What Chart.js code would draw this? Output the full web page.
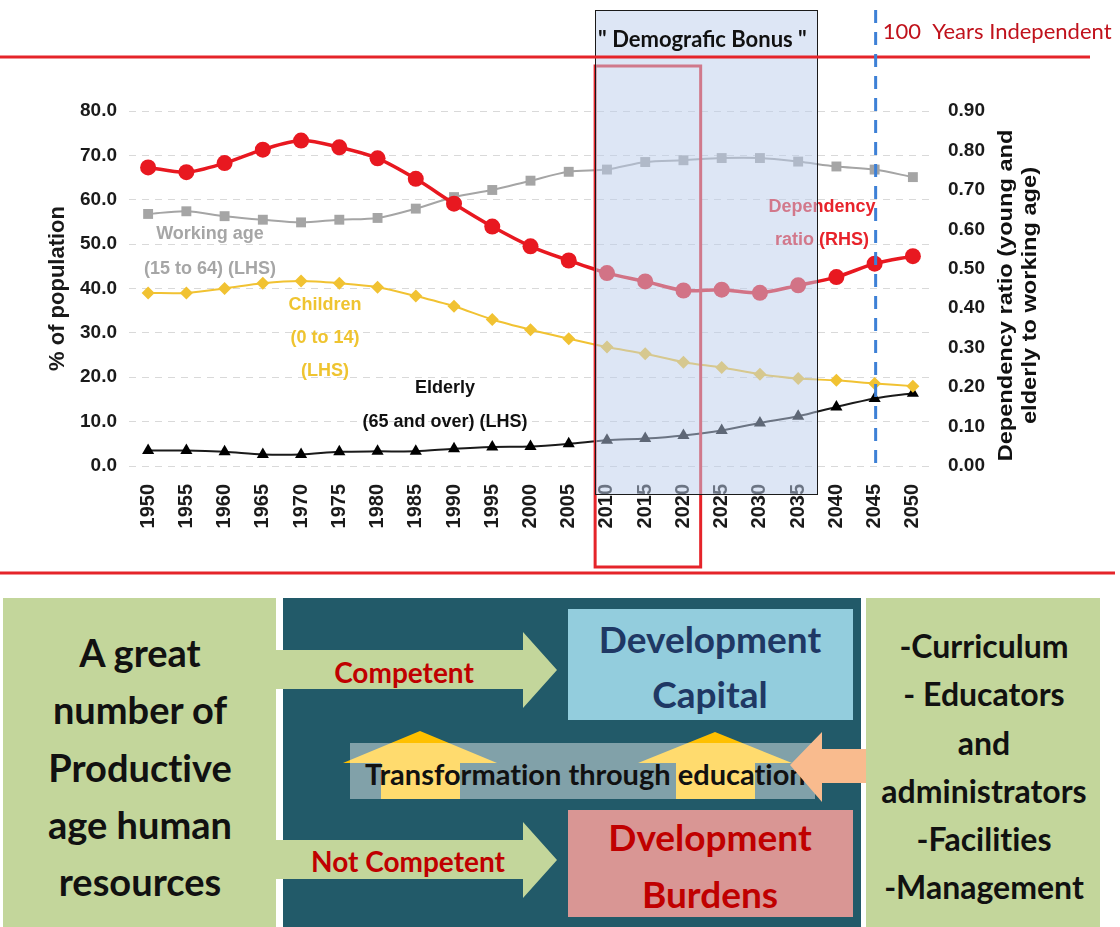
<!DOCTYPE html>
<html><head><meta charset="utf-8">
<script src="https://cdn.jsdelivr.net/npm/chart.js@4.4.0/dist/chart.umd.min.js"></script>
<style>
html,body{margin:0;padding:0;background:#fff;}
#wrap{position:relative;width:1120px;height:927px;overflow:hidden;background:#fff;}
#chart{position:absolute;left:0;top:0;}
#diagram{position:absolute;left:0;top:580px;font-variant-ligatures:none;}
</style></head><body>
<div id="wrap">
<canvas id="chart" width="1120" height="580"></canvas>
<svg id="diagram" width="1120" height="347" viewBox="0 580 1120 347" xmlns="http://www.w3.org/2000/svg">
 <g font-family="Lato, 'Open Sans', sans-serif" font-weight="bold" text-anchor="middle" dominant-baseline="central">
  <rect x="3" y="598" width="273" height="329" fill="#c3d69b"/>
  <rect x="283" y="598" width="578" height="329" fill="#225a69"/>
  <rect x="866" y="598" width="234" height="329" fill="#c3d69b"/>
  <rect x="568" y="609" width="285" height="111" fill="#93cddd"/>
  <rect x="568" y="810" width="285" height="107" fill="#d99694"/>
  <polygon points="272,650 523,650 523,632 557,670 523,708 523,689 272,689" fill="#c3d69b"/>
  <polygon points="272,840 523,840 523,822 557,860 523,898 523,879 272,879" fill="#c3d69b"/>
  <polygon points="420,731 497,763 460,763 460,799 381,799 381,763 343,763" fill="#ffc000"/>
  <polygon points="715,732 792,763 755,763 755,799 676,799 676,763 638,763" fill="#ffc000"/>
  <rect x="350" y="743" width="465" height="56" fill="#ffffff" fill-opacity="0.43"/>
  <text x="365" y="773" text-anchor="start" font-size="29" fill="#111">Transformation through education</text>
  <polygon points="790,765 822,732 822,749 866,749 866,783 822,783 822,802" fill="#f9bb8e"/>
  <text x="404" y="672" font-size="28" fill="#c00000">Competent</text>
  <text x="408" y="861" font-size="28" fill="#c00000">Not Competent</text>
  <text x="710" y="638" font-size="37" fill="#1f3864">Development</text>
  <text x="710" y="693" font-size="37" fill="#1f3864">Capital</text>
  <text x="710" y="836" font-size="37" fill="#c00000">Dvelopment</text>
  <text x="710" y="893" font-size="37" fill="#c00000">Burdens</text>
  <g font-size="38" fill="#111">
   <text x="140" y="652">A great</text>
   <text x="140" y="709">number of</text>
   <text x="140" y="767">Productive</text>
   <text x="140" y="824">age human</text>
   <text x="140" y="881">resources</text>
  </g>
  <g font-size="32" fill="#111">
   <text x="984" y="645">-Curriculum</text>
   <text x="984" y="693">- Educators</text>
   <text x="984" y="742">and</text>
   <text x="984" y="790">administrators</text>
   <text x="984" y="838">-Facilities</text>
   <text x="984" y="886">-Management</text>
  </g>
 </g>
</svg>
</div>
<script>
const years = ['1950','1955','1960','1965','1970','1975','1980','1985','1990','1995','2000','2005','2010','2015','2020','2025','2030','2035','2040','2045','2050'];
const dependencyRatio = [0.757,0.745,0.768,0.802,0.825,0.808,0.780,0.728,0.665,0.607,0.557,0.521,0.489,0.468,0.445,0.447,0.439,0.458,0.479,0.513,0.532];
const workingAge = [56.8,57.4,56.3,55.5,54.9,55.5,55.9,58.0,60.6,62.2,64.3,66.3,66.8,68.5,68.9,69.4,69.4,68.6,67.5,66.8,65.1];
const children = [39.0,39.0,40.0,41.2,41.7,41.2,40.3,38.3,36.0,33.0,30.7,28.7,26.8,25.3,23.4,22.2,20.7,19.7,19.3,18.6,18.0];
const elderly = [3.5,3.5,3.2,2.6,2.6,3.2,3.3,3.3,3.9,4.3,4.4,5.0,5.8,6.2,6.9,8.0,9.7,11.2,13.3,15.2,16.4];
const leftTitle = '% of population';
const rightTitle = ['Dependency ratio (young and', 'elderly to working age)'];
const bonusText = '" Demografic Bonus "';
const independentText = '100  Years Independent';
const bonusStartIdx = 11.69, bonusEndIdx = 17.5, redBoxEndIdx = 14.45, independentIdx = 19;

const notes = [
  {lines:['Working age','(15 to 64) (LHS)'], x:210, y:234, lh:35, color:'#a6a6a6'},
  {lines:['Children','(0 to 14)','(LHS)'], x:325, y:305, lh:33, color:'#efc430'},
  {lines:['Elderly','(65 and over) (LHS)'], x:445, y:388, lh:34, color:'#111111'},
  {lines:['Dependency','ratio (RHS)'], x:822, y:207, lh:33, color:'#e8232b'}
];

const AX = '"Liberation Sans", Arial, sans-serif';

const decor = {
  id: 'decor',
  afterDatasetsDraw(chart) {
    const ctx = chart.ctx;
    ctx.save();
    ctx.textAlign = 'center';
    ctx.textBaseline = 'middle';
    ctx.font = 'bold 18px ' + AX;
    notes.forEach(n => {
      ctx.fillStyle = n.color;
      n.lines.forEach((t, i) => ctx.fillText(t, n.x, n.y + i * n.lh));
    });
    ctx.restore();
  },
  afterDraw(chart) {
    const ctx = chart.ctx;
    const xs = chart.scales.x;
    const bx0 = xs.getPixelForValue(bonusStartIdx);
    const bx1 = xs.getPixelForValue(bonusEndIdx);
    const rx1 = xs.getPixelForValue(redBoxEndIdx);
    const ix = xs.getPixelForValue(independentIdx);
    const line = (a, b, c, d) => { ctx.beginPath(); ctx.moveTo(a, b); ctx.lineTo(c, d); ctx.stroke(); };
    ctx.save();
    ctx.strokeStyle = '#e5242a'; ctx.lineWidth = 3;
    ctx.strokeRect(bx0, 66, rx1 - bx0, 501);
    ctx.fillStyle = 'rgba(187,205,235,0.5)';
    ctx.fillRect(bx0, 10, bx1 - bx0, 484);
    ctx.strokeStyle = '#1a1a1a'; ctx.lineWidth = 1;
    ctx.strokeRect(Math.round(bx0) + 0.5, 10.5, Math.round(bx1 - bx0), 484);
    ctx.strokeStyle = '#e5242a'; ctx.lineWidth = 3;
    line(0, 57, 1090, 57);
    line(0, 573, 1115, 573);
    ctx.setLineDash([13, 9]);
    ctx.strokeStyle = '#3d80d6'; ctx.lineWidth = 3;
    line(ix + 1, 10, ix + 1, 466);
    ctx.setLineDash([]);
    ctx.textBaseline = 'middle';
    ctx.textAlign = 'left';
    ctx.fillStyle = '#111';
    ctx.font = 'bold 22px Lato, sans-serif';
    ctx.fillText(bonusText, bx0 + 3, 40);
    ctx.fillStyle = '#c0121c';
    ctx.font = '22px Lato, sans-serif';
    ctx.fillText(independentText, ix + 8, 32);
    // right axis title (reads bottom to top)
    ctx.fillStyle = '#111';
    ctx.font = 'bold 20px ' + AX;
    ctx.textAlign = 'center';
    const cy = (chart.chartArea.top + chart.chartArea.bottom) / 2 + 7;
    rightTitle.forEach((t, i) => {
      ctx.save();
      ctx.translate(1006 + i * 24, cy);
      ctx.rotate(-Math.PI / 2);
      ctx.scale(1.18, 1);
      ctx.fillText(t, 0, 0);
      ctx.restore();
    });
    ctx.restore();
  }
};

new Chart(document.getElementById('chart'), {
  type: 'line',
  data: {
    labels: years,
    datasets: [
      {label:'Dependency ratio (RHS)', data: dependencyRatio, yAxisID:'y1', borderColor:'#e81820', backgroundColor:'#e81820', borderWidth:3.5, pointStyle:'circle', pointRadius:8, pointBorderWidth:0, tension:0.3},
      {label:'Working age (15 to 64) (LHS)', data: workingAge, yAxisID:'y', borderColor:'#a5a5a5', backgroundColor:'#a5a5a5', borderWidth:2, pointStyle:'rect', pointRadius:7, pointBorderWidth:0, tension:0.3},
      {label:'Children (0 to 14) (LHS)', data: children, yAxisID:'y', borderColor:'#f1c232', backgroundColor:'#f1c232', borderWidth:2, pointStyle:'rectRot', pointRadius:6.5, pointBorderWidth:0, tension:0.3},
      {label:'Elderly (65 and over) (LHS)', data: elderly, yAxisID:'y', borderColor:'#1a1a1a', backgroundColor:'#000000', borderWidth:2, pointStyle:'triangle', pointRadius:7, pointBorderWidth:0, tension:0.3}
    ]
  },
  options: {
    responsive: false,
    animation: false,
    devicePixelRatio: 1,
    layout: {padding: {top: 111, left: 0, right: 0, bottom: 0}},
    plugins: {legend: {display: false}, tooltip: {enabled: false}},
    scales: {
      x: {
        offset: true,
        grid: {display: false, drawTicks: false},
        border: {display: false},
        ticks: {minRotation: 90, maxRotation: 90, padding: 18, color: '#1a1a1a', font: {family: AX, size: 20, weight: 'bold'}},
        afterFit(s) { s.height = 114; }
      },
      y: {
        position: 'left', min: 0, max: 80,
        grid: {color: '#d9d9d9', lineWidth: 1, drawTicks: false},
        border: {display: false, dash: [7, 6]},
        ticks: {stepSize: 10, padding: 12, color: '#1a1a1a', font: {family: AX, size: 19, weight: 'bold'}, callback: v => Number(v).toFixed(1)},
        title: {display: true, text: leftTitle, color: '#1a1a1a', font: {family: AX, size: 22, weight: 'bold'}, padding: {top: 45, bottom: 0}},
        afterFit(s) { s.width = 129; }
      },
      y1: {
        position: 'right', min: 0, max: 0.9,
        grid: {display: false, drawTicks: false},
        border: {display: false},
        ticks: {stepSize: 0.1, padding: 16, color: '#1a1a1a', font: {family: AX, size: 19, weight: 'bold'}, callback: v => Number(v).toFixed(2)},
        afterFit(s) { s.width = 188; }
      }
    }
  },
  plugins: [decor]
});
</script>
</body></html>
